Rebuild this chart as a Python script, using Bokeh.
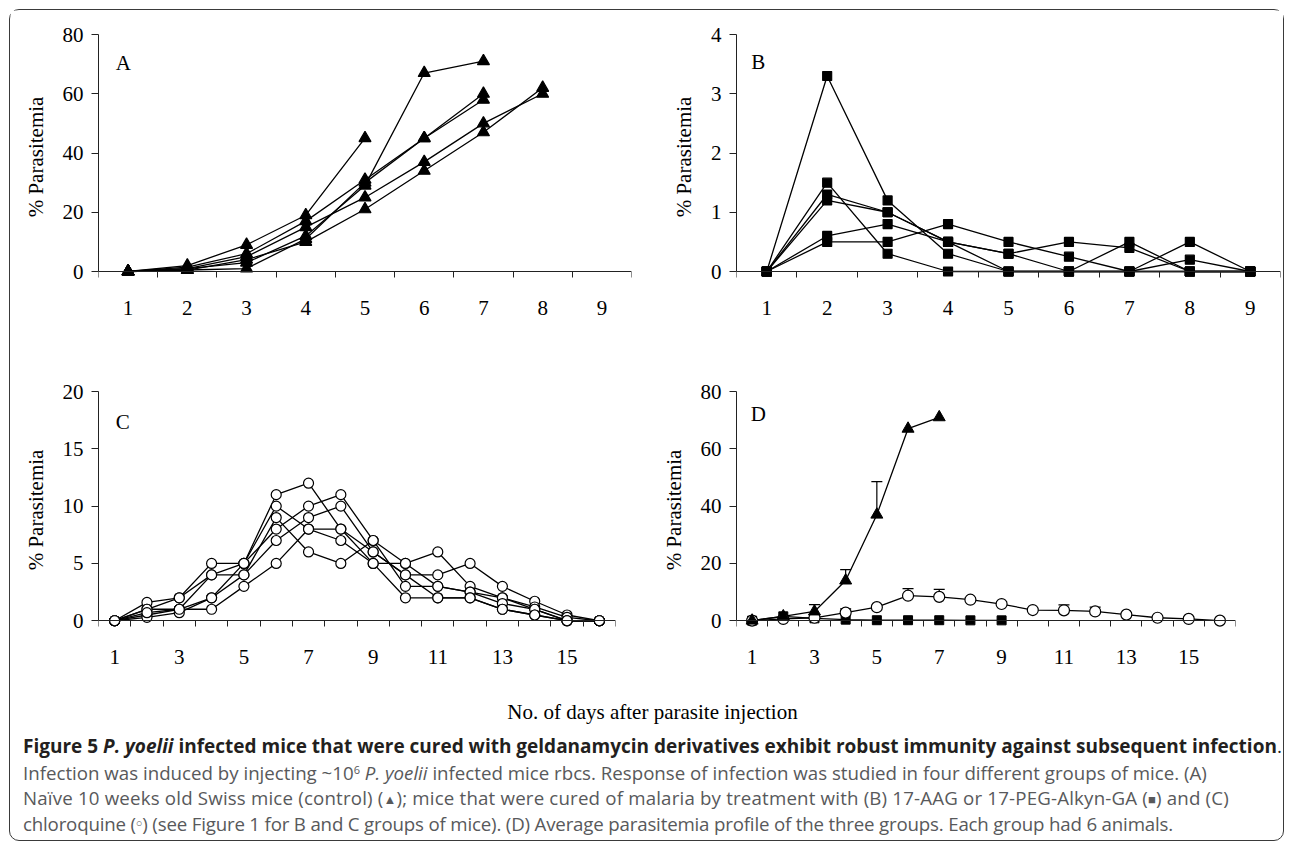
from bokeh.plotting import figure
from bokeh.models import (Range1d, FixedTicker, Label, Div, Whisker, TeeHead,
                          ColumnDataSource, LinearAxis, Spacer)
from bokeh.layouts import column, row
from bokeh.embed import file_html
from bokeh.resources import INLINE

SERIF = "Liberation Serif"

# ---------------- data ----------------
# Panel A: naive control mice (triangles), one list per mouse (days from 1)
a_mouse1 = [0, 2, 9, 19, 45]
a_mouse2 = [0, 1.5, 6, 17, 31, 45, 60]
a_mouse3 = [0, 1, 3, 12, 29, 67, 71]
a_mouse4 = [0, 0.5, 1, 11, 30, 45, 58]
a_mouse5 = [0, 1, 5, 15, 25, 37, 50, 60]
a_mouse6 = [0, 0.5, 4, 10, 21, 34, 47, 62]

# Panel B: 17-AAG / 17-PEG-Alkyn-GA cured mice (squares)
b_mouse1 = [0, 3.3, 1.2, 0.3, 0, 0, 0.5, 0, 0]
b_mouse2 = [0, 1.5, 0.3, 0, 0, 0, 0, 0.5, 0]
b_mouse3 = [0, 1.3, 1.0, 0.5, 0.3, 0.5, 0.4, 0, 0]
b_mouse4 = [0, 1.2, 1.0, 0.5, 0.3, 0, 0, 0.2, 0]
b_mouse5 = [0, 0.6, 0.8, 0.5, 0, 0, 0, 0, 0]
b_mouse6 = [0, 0.5, 0.5, 0.8, 0.5, 0.25, 0, 0, 0]

# Panel C: chloroquine cured mice (open circles)
c_mouse1 = [0, 1.6, 2, 5, 5, 11, 12, 8, 6, 4, 4, 5, 3, 1.7, 0.5, 0]
c_mouse2 = [0, 1, 2, 4, 5, 10, 8, 8, 5, 5, 6, 3, 2, 1.2, 0.3, 0]
c_mouse3 = [0, 1, 1, 4, 4, 9, 6, 5, 7, 5, 3, 2.5, 2, 1, 0, 0]
c_mouse4 = [0, 0.5, 1, 2, 5, 8, 10, 11, 7, 3, 3, 2.5, 1.5, 1, 0, 0]
c_mouse5 = [0, 0.3, 0.7, 2, 4, 7, 9, 10, 6, 4, 2, 2, 1, 0.5, 0, 0]
c_mouse6 = [0, 0.7, 1, 1, 3, 5, 8, 7, 5, 2, 2, 2, 1, 0.5, 0, 0]

# Panel D: group averages and upper error (SD)
d_control = [0, 1.5, 3.2, 14, 37, 67, 71]
d_control_err = [0, 0, 2.4, 3.8, 11.5, 0, 0]
d_geld = [0, 1.5, 0.8, 0.35, 0.15, 0.15, 0.15, 0.1, 0.1]
d_chloro = [0, 0.6, 1.0, 2.8, 4.7, 8.7, 8.3, 7.3, 5.8, 3.7, 3.6, 3.2, 2.1, 1.0, 0.6, 0]
d_chloro_err = [0, 0, 0, 1.3, 0, 2.5, 2.6, 0.7, 0.8, 0.6, 1.9, 1.5, 0, 0, 0, 0]

a_yticks = [0, 20, 40, 60, 80]
b_yticks = [0, 1, 2, 3, 4]
c_yticks = [0, 5, 10, 15, 20]
d_yticks = [0, 20, 40, 60, 80]
xlabels9 = [1, 2, 3, 4, 5, 6, 7, 8, 9]
xlabels16 = [1, 3, 5, 7, 9, 11, 13, 15]

AXIS = "#222222"


def panel(ncat, ymax, yticks, xlabels, width, height, top, bottom, left, right, letter, letter_xy, pad=8):
    fh = height - top - bottom
    ypad = pad * ymax / (fh - pad)
    p = figure(width=width, height=height,
               x_range=Range1d(0.5, ncat + 0.5), y_range=Range1d(-ypad, ymax),
               output_backend="svg", toolbar_location=None, x_axis_location=None,
               min_border_left=left, min_border_right=right,
               min_border_top=top, min_border_bottom=bottom,
               background_fill_color="white", border_fill_color="white")
    p.grid.visible = False
    p.outline_line_color = None

    # tick labels (centred on each day)
    lab = LinearAxis(ticker=FixedTicker(ticks=xlabels))
    lab.axis_line_color = None
    lab.major_tick_line_color = None
    lab.minor_tick_line_color = None
    lab.major_tick_out = 0
    lab.major_tick_in = 0
    lab.major_label_standoff = 21
    lab.major_label_text_font = SERIF
    lab.major_label_text_font_size = "21px"
    lab.major_label_text_color = "black"
    p.add_layout(lab, "below")

    # axis line and tick marks between days, crossing the y axis at 0
    xa = LinearAxis(ticker=FixedTicker(ticks=[], minor_ticks=[i + 0.5 for i in range(0, ncat + 1)]))
    xa.fixed_location = 0
    xa.axis_line_color = AXIS
    xa.major_tick_out = 0
    xa.major_tick_in = 0
    xa.minor_tick_out = 6
    xa.minor_tick_in = 0
    xa.minor_tick_line_color = AXIS
    xa.major_label_text_font_size = "0px"
    xa.major_label_standoff = 0
    p.add_layout(xa, "below")

    ya = p.yaxis[0]
    ya.ticker = FixedTicker(ticks=yticks)
    ya.bounds = (0, ymax)
    ya.axis_line_color = AXIS
    ya.major_tick_out = 7
    ya.major_tick_in = 0
    ya.major_tick_line_color = AXIS
    ya.minor_tick_line_color = None
    ya.major_label_standoff = 8
    ya.major_label_text_font = SERIF
    ya.major_label_text_font_size = "21px"
    ya.major_label_text_color = "black"
    ya.axis_label = "% Parasitemia"
    ya.axis_label_text_font = SERIF
    ya.axis_label_text_font_size = "21px"
    ya.axis_label_text_font_style = "normal"
    ya.axis_label_text_color = "black"
    ya.axis_label_standoff = 12

    p.add_layout(Label(x=letter_xy[0], y=letter_xy[1], text=letter, text_font=SERIF,
                       text_font_size="21px", text_align="center", text_baseline="middle",
                       text_color="black"))
    return p


def draw(p, series, marker, size, fill):
    for s in series:
        xs = list(range(1, len(s) + 1))
        p.line(xs, s, line_color="black", line_width=1.3)
    for s in series:
        xs = list(range(1, len(s) + 1))
        p.scatter(xs, s, marker=marker, size=size, fill_color=fill, line_color="black", line_width=1.2)


pA = panel(9, 80, a_yticks, xlabels9, 638, 328, 24, 59, 88, 17, "A", (0.92, 70.5))
draw(pA, [a_mouse1, a_mouse2, a_mouse3, a_mouse4, a_mouse5, a_mouse6], "triangle", 12, "black")

pB = panel(9, 4, b_yticks, xlabels9, 635, 328, 24, 59, 88, 3, "B", (0.86, 3.54))
draw(pB, [b_mouse1, b_mouse2, b_mouse3, b_mouse4, b_mouse5, b_mouse6], "square", 9, "black")

pC = panel(16, 20, c_yticks, xlabels16, 638, 360, 53, 63, 88, 33, "C", (1.25, 17.3))
draw(pC, [c_mouse1, c_mouse2, c_mouse3, c_mouse4, c_mouse5, c_mouse6], "circle", 10, "white")

pD = panel(16, 80, d_yticks, xlabels16, 635, 360, 49, 70, 88, 48, "D", (1.2, 72))


def whisk(p, vals, errs):
    xs, lo, hi = [], [], []
    for i, (v, e) in enumerate(zip(vals, errs)):
        if e > 0:
            xs.append(i + 1)
            lo.append(v)
            hi.append(v + e)
    src = ColumnDataSource(dict(x=xs, lo=lo, hi=hi))
    p.add_layout(Whisker(base="x", lower="lo", upper="hi", source=src, dimension="height",
                         line_color="black", line_width=1.2,
                         upper_head=TeeHead(size=11, line_color="black", line_width=1.2),
                         lower_head=None))


whisk(pD, d_control, d_control_err)
whisk(pD, d_chloro, d_chloro_err)
for s in (d_control, d_geld, d_chloro):
    pD.line(list(range(1, len(s) + 1)), s, line_color="black", line_width=1.3)
pD.scatter(list(range(1, len(d_geld) + 1)), d_geld, marker="square", size=9,
           fill_color="black", line_color="black")
pD.scatter(list(range(1, len(d_chloro) + 1)), d_chloro, marker="circle", size=11,
           fill_color="white", line_color="black", line_width=1.2)
pD.scatter(list(range(1, len(d_control) + 1)), d_control, marker="triangle", size=12,
           fill_color="black", line_color="black")

INNER_W = 1273

xlabel = Div(text='<div style="width:1273px;height:28px;overflow:hidden;text-align:center;'
                  'font-family:\'Liberation Serif\';font-size:21px;line-height:28px;color:#000;'
                  'padding-left:12px;box-sizing:border-box;">'
                  'No. of days after parasite injection</div>',
             width=INNER_W, height=28, margin=(0, 0, 0, 0))

ln = "white-space:nowrap;height:25.5px;line-height:25.5px;margin:0;"
sym = "position:relative;font-size:13px;line-height:0;"
caption_html = (
    '<div style="font-family:\'Open Sans\';width:1273px;height:114px;overflow:hidden;'
    'padding:8px 0 0 13px;box-sizing:border-box;">'
    f'<div style="{ln}font-size:19px;color:#231f20;font-weight:700;">Figure 5 <i>P. yoelii</i> infected mice '
    'that were cured with geldanamycin derivatives exhibit robust immunity against subsequent '
    'infection<span style="font-weight:400">.</span></div>'
    f'<div style="{ln}font-size:18.7px;color:#58595b;">Infection was induced by injecting ~10'
    '<span style="position:relative;top:-0.5em;font-size:11px;line-height:0;">6</span> '
    '<i>P. yoelii</i> infected mice rbcs. Response of infection was studied in four different groups '
    'of mice. (A)</div>'
    f'<div style="{ln}font-size:18.7px;color:#58595b;letter-spacing:0.18px;">Na&iuml;ve 10 weeks old Swiss mice (control) '
    f'(<span style="{sym}top:-1px;">&#9650;</span>); mice that were cured of malaria by treatment with '
    f'(B) 17-AAG or 17-PEG-Alkyn-GA (<span style="{sym}top:-1px;">&#9632;</span>) and (C)</div>'
    f'<div style="{ln}font-size:18.7px;color:#58595b;letter-spacing:-0.18px;">chloroquine (<span style="{sym}top:-4px;font-size:11px;">'
    '&#9675;</span>) (see Figure 1 for B and C groups of mice). (D) Average parasitemia profile of '
    'the three groups. Each group had 6 animals.</div>'
    '</div>'
)
caption = Div(text=caption_html, width=INNER_W, height=114, margin=(0, 0, 0, 0))

inner = column(row(pA, pB), row(pC, pD), xlabel, caption,
               styles={"border": "1px solid #3a3a3a", "border-radius": "10px",
                       "background": "white"})

layout = column(Spacer(width=10, height=9), row(Spacer(width=9, height=10), inner))

open("out.html", "w").write(file_html(layout, INLINE))
